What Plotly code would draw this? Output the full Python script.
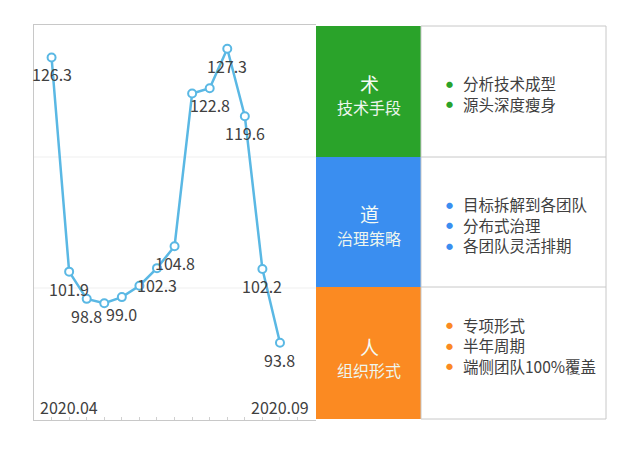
import plotly.graph_objects as go

W, H = 640, 457

# ---- data ----
months_idx = list(range(14))
values = [126.3, 101.9, 98.8, 98.3, 99.0, 100.3, 102.3, 104.8, 122.2, 122.8, 127.3, 119.6, 102.2, 93.8]
show_label = [True, True, True, False, True, False, True, True, False, True, True, True, True, True]
period_labels = ["2020.04", "2020.09"]
period_pos = [1, 13]

sections = ["术", "道", "人"]
section_subs = ["技术手段", "治理策略", "组织形式"]
section_colors = ["#2aa32a", "#3a8ef0", "#fb8a22"]
section_items = [
    ["分析技术成型", "源头深度瘦身"],
    ["目标拆解到各团队", "分布式治理", "各团队灵活排期"],
    ["专项形式", "半年周期", "端侧团队100%覆盖"],
]

FONT = "Noto Sans CJK SC"
line_color = "#5ab8e4"
text_color = "#404040"


def px(x):
    return x / W


def py(y):
    return 1 - y / H


fig = go.Figure()
fig.add_trace(go.Scatter(
    x=months_idx, y=values, mode="lines+markers",
    line=dict(color=line_color, width=2.5),
    marker=dict(symbol="circle", size=8, color="white", line=dict(color=line_color, width=2)),
    hoverinfo="skip", showlegend=False,
))

annotations = []
for xi, v, s in zip(months_idx, values, show_label):
    if s:
        annotations.append(dict(x=xi, y=v, xref="x", yref="y", text=f"{v:.1f}", showarrow=False,
                                xanchor="center", yanchor="middle",
                                yshift=-17, font=dict(family=FONT, size=16, color=text_color)))
for lab, pos in zip(period_labels, period_pos):
    annotations.append(dict(x=pos, y=86.5, xref="x", yref="y", text=lab, showarrow=False,
                            xanchor="center", yanchor="middle",
                            font=dict(family=FONT, size=16, color=text_color)))

shapes = []
# faint horizontal separators across the left panel
for yy in [157, 288]:
    shapes.append(dict(type="line", xref="paper", yref="paper", x0=px(34), x1=px(316), y0=py(yy), y1=py(yy),
                       line=dict(color="#efefef", width=1), layer="below"))

# right table
row_edges = [26, 157, 287, 419]
for i in range(3):
    shapes.append(dict(type="rect", xref="paper", yref="paper", x0=px(316), x1=px(421),
                       y0=py(row_edges[i + 1]), y1=py(row_edges[i]),
                       fillcolor=section_colors[i], line=dict(width=0)))
shapes.append(dict(type="rect", xref="paper", yref="paper", x0=px(421), x1=px(606),
                   y0=py(419), y1=py(26), line=dict(color="#c8c8c8", width=1)))
for yy in [157, 287]:
    shapes.append(dict(type="line", xref="paper", yref="paper", x0=px(421), x1=px(606), y0=py(yy), y1=py(yy),
                       line=dict(color="#c8c8c8", width=1)))

title_y = [83.5, 213.5, 346]
sub_y = [107, 238, 369.5]
item_y0 = [83, 204, 324.5]
item_dy = 20.7
for i in range(3):
    annotations.append(dict(x=px(369), y=py(title_y[i]), xref="paper", yref="paper", text=sections[i],
                            xanchor="center", yanchor="middle",
                            showarrow=False, font=dict(family=FONT, size=19, color="#f4fbf4")))
    annotations.append(dict(x=px(369), y=py(sub_y[i]), xref="paper", yref="paper", text=section_subs[i],
                            xanchor="center", yanchor="middle",
                            showarrow=False, font=dict(family=FONT, size=16, color="#eef6ee")))
    for j, it in enumerate(section_items[i]):
        yy = item_y0[i] + j * item_dy
        annotations.append(dict(x=px(449.5), y=py(yy + 0.5), xref="paper", yref="paper", text="●",
                                xanchor="center", yanchor="middle",
                                showarrow=False, font=dict(family=FONT, size=7, color=section_colors[i])))
        annotations.append(dict(x=px(461), y=py(yy), xref="paper", yref="paper", text=it,
                                xanchor="left", yanchor="middle",
                                showarrow=False, font=dict(family=FONT, size=15.5, color=text_color)))

fig.update_layout(
    width=W, height=H,
    margin=dict(l=0, r=0, t=0, b=0),
    paper_bgcolor="white", plot_bgcolor="white",
    xaxis=dict(domain=[px(34), px(316)], range=[-1.0, 15.05], showgrid=False, zeroline=False,
               showline=True, linecolor="#c8c8c8", linewidth=1, mirror=True,
               ticks="inside", ticklen=3, tickcolor="#d0d0d0", tick0=0, dtick=1, showticklabels=False),
    yaxis=dict(domain=[py(420), py(25)], range=[85, 130], showgrid=False, zeroline=False,
               showline=True, linecolor="#c8c8c8", linewidth=1, showticklabels=False, ticks=""),
    shapes=shapes, annotations=annotations,
)

fig.write_html("out.html")
